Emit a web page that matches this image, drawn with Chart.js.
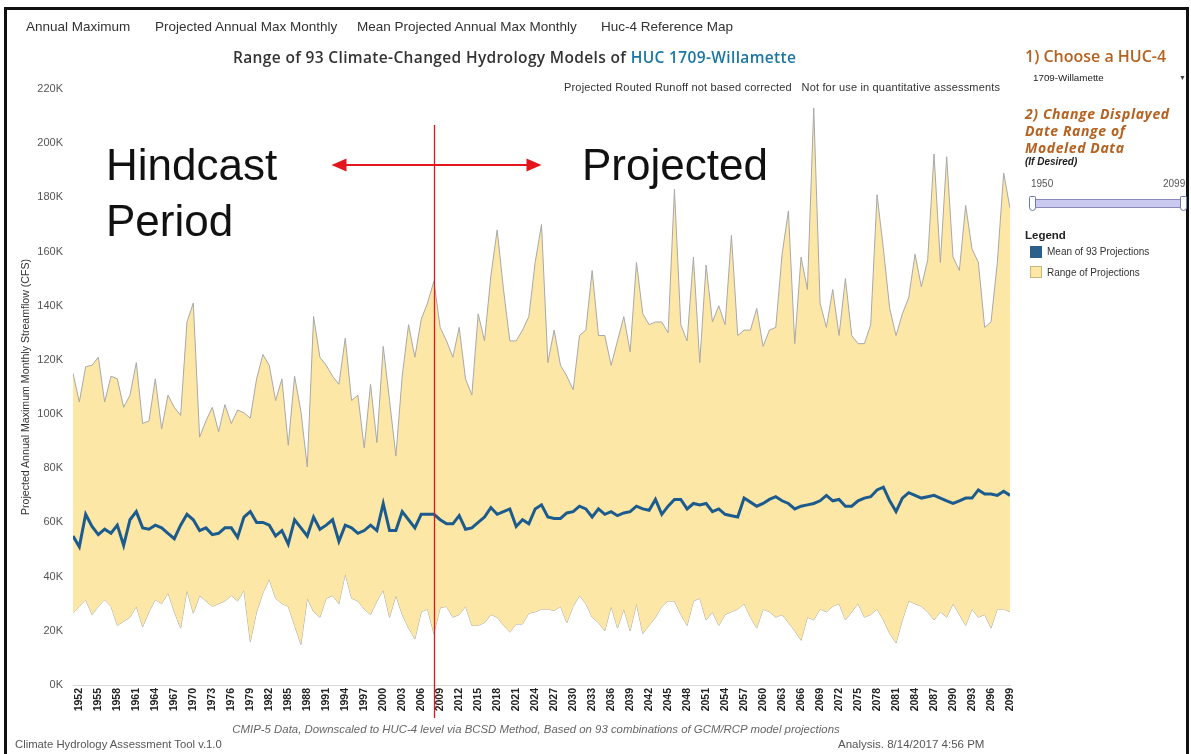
<!DOCTYPE html>
<html><head><meta charset="utf-8">
<script src="https://cdn.jsdelivr.net/npm/chart.js@4.4.1/dist/chart.umd.min.js"></script>
<style>
html,body{margin:0;padding:0;background:#fff;width:1191px;height:754px;overflow:hidden;font-family:"Liberation Sans",Arial,sans-serif;}
#wrap{position:relative;width:1191px;height:754px;}
#frame{position:absolute;left:4px;top:7px;width:1185px;height:800px;border:3px solid #111;box-sizing:border-box;}
#c{position:absolute;left:0;top:0;}
.t{position:absolute;white-space:nowrap;line-height:1;}
.nav{top:20px;font-size:13.5px;color:#333;}
.ann{font-size:44px;color:#111;font-family:"Liberation Sans",Arial,sans-serif;}
.or{color:#b5611f;font-family:"Open Sans",sans-serif;}
.sw{position:absolute;width:12px;height:12px;box-sizing:border-box;}
</style>
</head><body><div id="wrap">
<canvas id="c" width="1191" height="754"></canvas>
<div id="frame"></div>

<div class="t nav" style="left:26px">Annual Maximum</div>
<div class="t nav" style="left:155px">Projected Annual Max Monthly</div>
<div class="t nav" style="left:357px">Mean Projected Annual Max Monthly</div>
<div class="t nav" style="left:601px">Huc-4 Reference Map</div>

<div class="t" style="left:233px;top:50px;font-family:'Open Sans',sans-serif;font-weight:600;font-size:15.5px;letter-spacing:0.35px;color:#333;">Range of 93 Climate-Changed Hydrology Models of <span style="color:#1b77a2">HUC 1709-Willamette</span></div>
<div class="t" style="left:564px;top:82px;font-size:11px;letter-spacing:0.17px;color:#333;">Projected Routed Runoff not based corrected&nbsp;&nbsp; Not for use in quantitative assessments</div>

<div class="t" style="left:25px;top:387px;font-size:10.6px;color:#333;transform:translate(-50%,-50%) rotate(-90deg);">Projected Annual Maximum Monthly Streamflow (CFS)</div>

<div class="t ann" style="left:106px;top:143px;">Hindcast</div>
<div class="t ann" style="left:106px;top:199px;">Period</div>
<div class="t ann" style="left:582px;top:143px;">Projected</div>

<div class="t" style="left:536px;top:724px;transform:translateX(-50%);font-size:11.4px;font-style:italic;color:#666;">CMIP-5 Data, Downscaled to HUC-4 level via BCSD Method, Based on 93 combinations of GCM/RCP model projections</div>
<div class="t" style="left:15px;top:739px;font-size:11.3px;color:#555;">Climate Hydrology Assessment Tool v.1.0</div>
<div class="t" style="left:838px;top:739px;font-size:11.5px;color:#555;">Analysis. 8/14/2017 4:56 PM</div>

<div class="t or" style="left:1025px;top:48px;font-size:16px;font-weight:600;">1) Choose a HUC-4</div>
<div class="t" style="left:1033px;top:73px;font-size:9.8px;color:#222;">1709-Willamette</div>
<div class="t" style="left:1179px;top:74px;font-size:7px;color:#444;">&#9660;</div>
<div class="t or" style="left:1025px;top:105px;font-size:14px;font-weight:700;font-style:italic;letter-spacing:0.6px;line-height:17px;">2) Change Displayed<br>Date Range of<br>Modeled Data</div>
<div class="t" style="left:1025px;top:157px;font-size:10px;font-weight:700;font-style:italic;color:#222;">(If Desired)</div>
<div class="t" style="left:1031px;top:179px;font-size:10px;color:#555;">1950</div>
<div class="t" style="left:1163px;top:179px;font-size:10px;color:#555;">2099</div>
<div style="position:absolute;left:1033px;top:199px;width:152px;height:9px;background:#cacaf0;border:1px solid #8a8ab8;box-sizing:border-box;"></div>
<div style="position:absolute;left:1029px;top:196px;width:7px;height:15px;background:#fff;border:1.5px solid #6c7aa8;border-radius:2px 2px 5px 5px;box-sizing:border-box;"></div>
<div style="position:absolute;left:1180px;top:196px;width:7px;height:15px;background:#fff;border:1.5px solid #6c7aa8;border-radius:2px 2px 5px 5px;box-sizing:border-box;"></div>
<div class="t" style="left:1025px;top:230px;font-size:11.5px;font-weight:700;color:#222;">Legend</div>
<div class="sw" style="left:1030px;top:246px;background:#2b5f8c;"></div>
<div class="t" style="left:1047px;top:247px;font-size:10px;color:#333;">Mean of 93 Projections</div>
<div class="sw" style="left:1030px;top:266px;background:#fde7a4;border:1px solid #c8b880;"></div>
<div class="t" style="left:1047px;top:268px;font-size:10px;color:#333;">Range of Projections</div>
</div>
<script>
const years = [1951,1952,1953,1954,1955,1956,1957,1958,1959,1960,1961,1962,1963,1964,1965,1966,1967,1968,1969,1970,
1971,1972,1973,1974,1975,1976,1977,1978,1979,1980,1981,1982,1983,1984,1985,1986,1987,1988,1989,1990,
1991,1992,1993,1994,1995,1996,1997,1998,1999,2000,2001,2002,2003,2004,2005,2006,2007,2008,2009,2010,
2011,2012,2013,2014,2015,2016,2017,2018,2019,2020,2021,2022,2023,2024,2025,2026,2027,2028,2029,2030,
2031,2032,2033,2034,2035,2036,2037,2038,2039,2040,2041,2042,2043,2044,2045,2046,2047,2048,2049,2050,
2051,2052,2053,2054,2055,2056,2057,2058,2059,2060,2061,2062,2063,2064,2065,2066,2067,2068,2069,2070,
2071,2072,2073,2074,2075,2076,2077,2078,2079,2080,2081,2082,2083,2084,2085,2086,2087,2088,2089,2090,
2091,2092,2093,2094,2095,2096,2097,2098,2099];

// values in thousands of CFS
const upperRange = [115,104.5,117.5,118,121,104.5,114,113,102.5,107,119,96.5,97.5,113,94.5,107,102.5,99.5,134,141,
91.5,97.5,102.5,93.5,103.5,96.5,101.5,100.5,98.5,113,122,118,105,113,88.5,114,101,80.5,136,121,
118,114,111,128,105,107,87.5,111,89.5,125,105,84.5,114,133,121,135,141,149,132,127,
121,132,113,107,137,127,151,168,146,127,127,131,136,156,170,119,131,118,114,109,
129,131,153,129,129,118,127,136,123,156,137,133,134,134,130,183,133,127,158,119,
155,134,140,133,166,129,131,131,139,125,131,132,159,175,126,158,146,213,141,132,
146,129,150,129,126,126,133,181,161,139,129,137,143,159,147,157,196,156,195,158,
153,177,161,156,132,134,156,189,176];

const lowerRange = [26.5,29,31.5,26,29,31.5,29,22,23.5,25,29,21.5,27,31.5,30,34,27,21,35,26.5,
33,31,29,30,31,33,31,35,16,27,34,39,32,30,29,22,15,32,27,25,
32,33,30,41,32,31,28,26,31,35,25,33,26,21,17,27,28,19,28.5,29,
25,26,29,22,22,23,26,25,22,19.5,22.5,22.5,26.5,27,28,28,27.5,29,23,29,
33,30,25,23,20,29,21,28,20,30,19,22,25,29,31,31,26,22,31,32,
24,27,22,26,27,28,30,25,21,28,27,25,26,23,20,16.5,25,24,28,27,
29,30,24,27,30,25,26,28,24,19,15.5,24,31,30,29,27,24,27,25,30,
26,22,28,25,26,21,28,28,27];

const meanProj = [55,51,63,58.5,55.5,57.5,56,59,51.5,61,64,58,57.5,59,58,56,54,59,63,61,
57,58,55.5,56,58,58,54.5,62,64,60,60,59,55,57,52,61,58,55,62,57.5,
59,61,53,59,58,56,57,59,57,67,57,57,64,61,58,63,63,63,61,59.5,
59.5,62.5,57.5,58,60,62,65.5,63,64,65,58.5,61,59.5,65,66.5,62,61.5,61.5,63.5,64,
66,65,62,65,63,64,62.5,63.5,64,66,65,64.5,68.5,63,66,68.5,68.5,65,67,66.5,
67,64,65,63,62.5,62,69,67.5,66,67,68.5,69.5,68,67,65,66,66.5,67,68,70,
68,68.5,66,66,68,69,69.5,72,73,68,64,69,71,70,69,69.5,70,69,68,67,
68,69,69,72,70.5,70.5,70,71.5,70];

const yTicks = [0,20,40,60,80,100,120,140,160,180,200,220];
const xTickYears = years.filter(y => (y - 1952) % 3 === 0);
const dividerYear = 2008;

const FONT = '"Liberation Sans", Arial, sans-serif';
const pts = arr => arr.map((v, i) => ({x: years[i], y: v}));

const dividerPlugin = {
  id: 'divider',
  afterDraw(chart) {
    const ctx = chart.ctx;
    const x = Math.round(chart.scales.x.getPixelForValue(dividerYear)) + 0.5;
    ctx.save();
    ctx.strokeStyle = '#e3161d';
    ctx.fillStyle = '#e3161d';
    ctx.lineWidth = 1.3;
    ctx.beginPath(); ctx.moveTo(x, 125); ctx.lineTo(x, 718); ctx.stroke();
    const y = 165, l = x - 103, r = x + 107;
    ctx.lineWidth = 2;
    ctx.beginPath(); ctx.moveTo(l + 10, y); ctx.lineTo(r - 10, y); ctx.stroke();
    ctx.beginPath(); ctx.moveTo(l, y); ctx.lineTo(l + 15, y - 6.5); ctx.lineTo(l + 15, y + 6.5); ctx.closePath(); ctx.fill();
    ctx.beginPath(); ctx.moveTo(r, y); ctx.lineTo(r - 15, y - 6.5); ctx.lineTo(r - 15, y + 6.5); ctx.closePath(); ctx.fill();
    ctx.restore();
  }
};

new Chart(document.getElementById('c').getContext('2d'), {
  type: 'line',
  data: {
    datasets: [
      {label: 'Mean of 93 Projections', data: pts(meanProj), borderColor: '#1c5b8d', borderWidth: 3, pointRadius: 0, fill: false, tension: 0},
      {label: 'Range of Projections', data: pts(upperRange), borderColor: '#a8a8a8', borderWidth: 1, backgroundColor: '#fde7a6', fill: '+1', pointRadius: 0, tension: 0},
      {label: 'Range low', data: pts(lowerRange), borderColor: '#a8a8a8', borderWidth: 1, pointRadius: 0, fill: false, tension: 0}
    ]
  },
  options: {
    responsive: false, animation: false, devicePixelRatio: 1,
    layout: {padding: {left: 13, right: 181, top: 89, bottom: 29}},
    plugins: {legend: {display: false}, tooltip: {enabled: false}},
    scales: {
      x: {
        type: 'linear', min: 1951, max: 2099,
        grid: {display: false, drawTicks: false},
        border: {display: true, color: '#d8d8d8'},
        ticks: {autoSkip: false, minRotation: 90, maxRotation: 90, padding: 3, color: '#222', font: {size: 10.5, weight: 'bold', family: FONT}, callback: v => String(v)},
        afterBuildTicks: s => { s.ticks = xTickYears.map(v => ({value: v})); },
        afterFit: s => { s.height = 40; }
      },
      y: {
        min: 0, max: 220,
        grid: {display: false, drawTicks: false},
        border: {display: false},
        ticks: {padding: 10, color: '#555', font: {size: 11, family: FONT}, callback: v => v + 'K'},
        afterBuildTicks: s => { s.ticks = yTicks.map(v => ({value: v})); },
        afterFit: s => { s.width = 60; }
      }
    }
  },
  plugins: [dividerPlugin]
});
</script>
</body></html>
